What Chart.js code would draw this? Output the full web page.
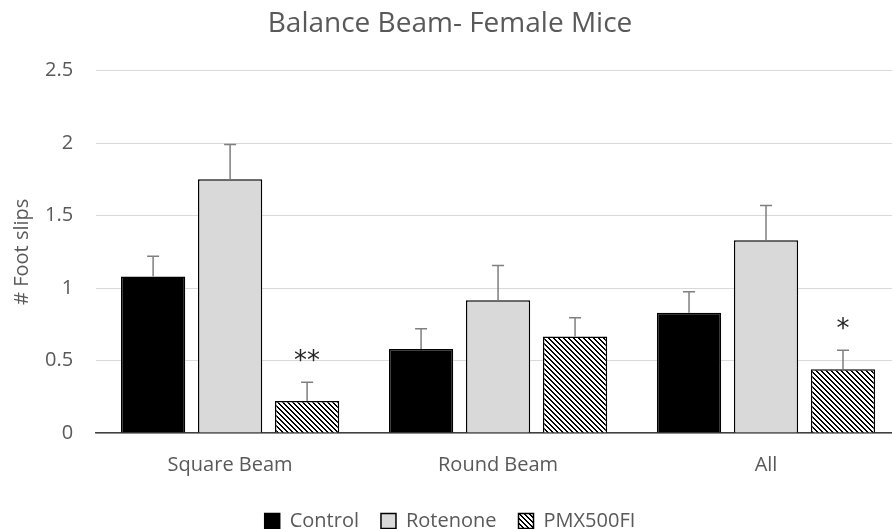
<!DOCTYPE html>
<html>
<head>
<meta charset="utf-8">
<script src="https://cdn.jsdelivr.net/npm/chart.js@4.4.0/dist/chart.umd.min.js"></script>
<style>
  html, body { margin: 0; padding: 0; overflow: hidden; background: #fff; }
  .chart-container { position: relative; width: 906px; height: 541px; }
</style>
</head>
<body>
<div class="chart-container"><canvas id="myChart"></canvas></div>
<script>
  var categories = ["Square Beam", "Round Beam", "All"];
  var controlValues = [1.08, 0.58, 0.83];
  var controlErrors = [0.14, 0.14, 0.145];
  var rotenoneValues = [1.75, 0.915, 1.33];
  var rotenoneErrors = [0.24, 0.24, 0.24];
  var pmxValues = [0.22, 0.665, 0.44];
  var pmxErrors = [0.13, 0.13, 0.13];
  var pmxSignificance = ["**", "", "*"];
  var yTicks = [0, 0.5, 1, 1.5, 2, 2.5];
  var yTickLabels = ["0", "0.5", "1", "1.5", "2", "2.5"];

  var textColor = "#595959";
  var fontFamily = "'Open Sans', sans-serif";

  // downward diagonal hatch like the Excel pattern fill
  function makeHatch() {
    var size = 5;
    var c = document.createElement("canvas");
    c.width = size;
    c.height = size;
    var g = c.getContext("2d");
    var img = g.createImageData(size, size);
    for (var y = 0; y < size; y++) {
      for (var x = 0; x < size; x++) {
        var k = (y * size + x) * 4;
        var on = (x - y + size) % size < 2;
        var v = on ? 0 : 255;
        img.data[k] = v;
        img.data[k + 1] = v;
        img.data[k + 2] = v;
        img.data[k + 3] = 255;
      }
    }
    g.putImageData(img, 0, 0);
    return g.createPattern(c, "repeat");
  }

  var errorBarPlugin = {
    id: "errorBars",
    afterDatasetsDraw: function (chart) {
      var ctx = chart.ctx;
      var yScale = chart.scales.y;
      ctx.save();
      chart.data.datasets.forEach(function (ds, di) {
        var meta = chart.getDatasetMeta(di);
        meta.data.forEach(function (bar, i) {
          var top = yScale.getPixelForValue(ds.data[i] + ds.errors[i]);
          ctx.strokeStyle = "#7f7f7f";
          ctx.lineWidth = 1.5;
          ctx.beginPath();
          ctx.moveTo(bar.x, bar.y);
          ctx.lineTo(bar.x, top);
          ctx.moveTo(bar.x - 6, top);
          ctx.lineTo(bar.x + 6, top);
          ctx.stroke();
          if (ds.marks && ds.marks[i]) {
            ctx.fillStyle = "#262626";
            ctx.font = "26px 'DejaVu Sans'";
            ctx.textAlign = "center";
            ctx.textBaseline = "middle";
            ctx.fillText(ds.marks[i], bar.x, top - 20);
          }
        });
      });
      ctx.restore();
    },
  };

  var ctx = document.getElementById("myChart").getContext("2d");
  var hatch = makeHatch();

  var config = {
    type: "bar",
    data: {
      labels: categories,
      datasets: [
        {
          label: "Control",
          data: controlValues,
          errors: controlErrors,
          backgroundColor: "#000000",
          borderColor: "#000000",
          borderWidth: 1.5,
        },
        {
          label: "Rotenone",
          data: rotenoneValues,
          errors: rotenoneErrors,
          backgroundColor: "#d9d9d9",
          borderColor: "#000000",
          borderWidth: 1.5,
        },
        {
          label: "PMX500FI",
          data: pmxValues,
          errors: pmxErrors,
          marks: pmxSignificance,
          backgroundColor: hatch,
          borderColor: "#000000",
          borderWidth: 1.5,
        },
      ],
    },
    options: {
      responsive: true,
      maintainAspectRatio: false,
      animation: false,
      categoryPercentage: 0.862,
      barPercentage: 0.835,
      layout: { padding: { right: 6 } },
      scales: {
        x: {
          grid: { display: false, drawTicks: false },
          border: { display: true, color: "#404040", width: 1.5 },
          ticks: {
            color: textColor,
            font: { family: fontFamily, size: 20 },
            padding: 20,
          },
          afterFit: function (scale) {
            scale.height -= 8;
          },
        },
        y: {
          min: 0,
          max: 2.5,
          afterBuildTicks: function (scale) {
            scale.ticks = yTicks.map(function (v) {
              return { value: v };
            });
          },
          grid: { color: "#d9d9d9", lineWidth: 1, drawTicks: false },
          border: { display: false },
          ticks: {
            color: textColor,
            font: { family: fontFamily, size: 20 },
            padding: 23,
            callback: function (value, index) {
              return yTickLabels[index];
            },
          },
          title: {
            display: true,
            text: "# Foot slips",
            color: textColor,
            font: { family: fontFamily, size: 20 },
            padding: { top: 10, bottom: -12 },
          },
        },
      },
      plugins: {
        legend: {
          position: "bottom",
          labels: {
            boxWidth: 15,
            boxHeight: 15,
            padding: 22,
            color: textColor,
            font: { family: fontFamily, size: 20 },
          },
        },
        title: {
          display: true,
          text: "Balance Beam- Female Mice",
          color: textColor,
          font: { family: fontFamily, size: 28, weight: "normal" },
          padding: { top: 7, bottom: 30 },
        },
        tooltip: { enabled: false },
      },
    },
    plugins: [errorBarPlugin],
  };

  var myChart = new Chart(ctx, config);
</script>
</body>
</html>
